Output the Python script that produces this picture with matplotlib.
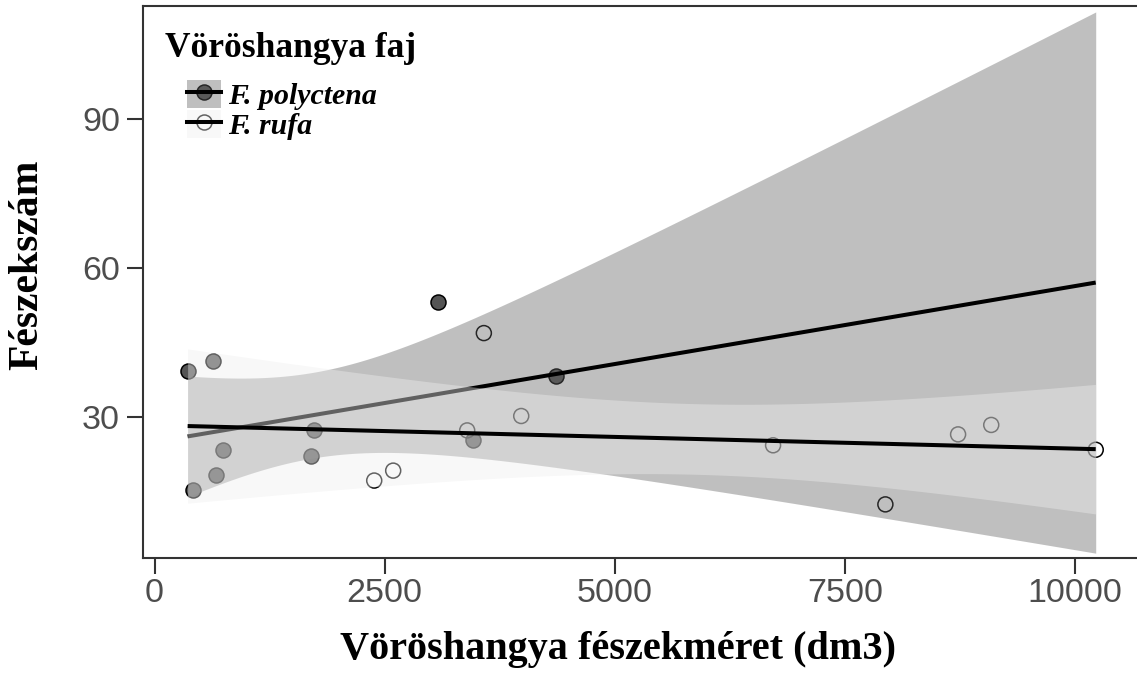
import numpy as np
import matplotlib
matplotlib.use("Agg")
import matplotlib.pyplot as plt
from matplotlib.lines import Line2D
from matplotlib.patches import Patch
from matplotlib.legend_handler import HandlerTuple

# ---------------- data ----------------
species = ["F. polyctena", "F. rufa"]
poly_x = [360, 422, 632, 668, 747, 1703, 1736, 3083, 3455, 4357]
poly_y = [39.1, 15.2, 41.1, 18.2, 23.2, 22.1, 27.2, 53.1, 25.2, 38.1]
rufa_x = [2387, 2593, 3397, 3578, 3984, 6720, 7940, 8730, 9090, 10225]
rufa_y = [17.1, 19.1, 27.2, 46.8, 30.1, 24.2, 12.3, 26.4, 28.3, 23.3]
x_ticks = [0, 2500, 5000, 7500, 10000]
y_ticks = [30, 60, 90]
legend_title = "Vöröshangya faj"
x_title = "Vöröshangya fészekméret (dm3)"
y_title = "Fészekszám"
T95 = {8: 2.306}  # Student t, 95 %, by degrees of freedom

# ---------------- styles ----------------
W, H = 1137, 675
poly_band = (0.382, 0.382, 0.382)
poly_alpha = 0.4
rufa_band = (0.933, 0.933, 0.933)
rufa_alpha = 0.413
serif = "Liberation Serif"
sans = "Liberation Sans"


def lm_band(x, y, grid):
    x = np.asarray(x, float)
    y = np.asarray(y, float)
    n = len(x)
    xm, ym = x.mean(), y.mean()
    sxx = ((x - xm) ** 2).sum()
    b = ((x - xm) * (y - ym)).sum() / sxx
    a = ym - b * xm
    s = np.sqrt(((y - (a + b * x)) ** 2).sum() / (n - 2))
    fit = a + b * grid
    se = s * np.sqrt(1.0 / n + (grid - xm) ** 2 / sxx)
    t = T95[n - 2]
    return fit, fit - t * se, fit + t * se


fig = plt.figure(figsize=(W / 100, H / 100), dpi=100)
fig.patch.set_facecolor("white")

# axes placement in pixels
left_px, right_px, top_px, bot_px = 143, 1160, 6, 558
ax = fig.add_axes([left_px / W, 1 - bot_px / H,
                   (right_px - left_px) / W, (bot_px - top_px) / H])
ax.set_facecolor("white")

ppu_x = (1075 - 154.5) / 10000.0
ax.set_xlim((left_px - 154.5) / ppu_x, (right_px - 154.5) / ppu_x)
ppu_y = (416.5 - 118.6) / 60.0
y0 = 416.5 + 30 * ppu_y
ax.set_ylim((y0 - bot_px) / ppu_y, (y0 - top_px) / ppu_y)

all_x = np.array(poly_x + rufa_x, float)
grid = np.linspace(all_x.min(), all_x.max(), 300)

ms = 10.8
ax.scatter(poly_x, poly_y, s=ms ** 2, facecolor="#555555", edgecolor="black",
           linewidth=1.1, zorder=1)
ax.scatter(rufa_x, rufa_y, s=ms ** 2, facecolor="none", edgecolor="black",
           linewidth=1.1, zorder=1)

pf, plo, phi = lm_band(poly_x, poly_y, grid)
rf, rlo, rhi = lm_band(rufa_x, rufa_y, grid)

ax.fill_between(grid, plo, phi, color=poly_band, alpha=poly_alpha, lw=0, zorder=2)
ax.plot(grid, pf, color="black", lw=2.9, zorder=3, solid_capstyle="butt")
ax.fill_between(grid, rlo, rhi, color=rufa_band, alpha=rufa_alpha, lw=0, zorder=4)
ax.plot(grid, rf, color="black", lw=2.9, zorder=5, solid_capstyle="butt")

# axes styling
ax.set_xticks(x_ticks)
ax.set_yticks(y_ticks)
ax.set_xticklabels([str(v) for v in x_ticks])
ax.set_yticklabels([str(v) for v in y_ticks])
for lab in ax.get_xticklabels() + ax.get_yticklabels():
    lab.set_family(sans)
    lab.set_fontsize(24.5)
    lab.set_color("#4D4D4D")
ax.tick_params(axis="both", direction="out", length=11.5, width=1.5,
               color="#333333")
ax.tick_params(axis="x", pad=3)
ax.tick_params(axis="y", pad=5)
for side in ["left", "top", "bottom", "right"]:
    ax.spines[side].set_color("#333333")
    ax.spines[side].set_linewidth(1.5)

# axis titles
fig.text(618 / W, 1 - 650 / H, x_title, family=serif, weight="bold",
         fontsize=29, ha="center", va="center")
fig.text(27 / W, 1 - 265 / H, y_title, family=serif, weight="bold",
         fontsize=30, ha="center", va="center", rotation=90)

# legend
fig.text(165 / W, 1 - 57 / H, legend_title, family=serif, weight="bold",
         fontsize=25.5, ha="left", va="baseline")
pt1 = Line2D([], [], ls="none", marker="o", ms=ms, mfc="#555555", mec="black", mew=1.1)
pt2 = Line2D([], [], ls="none", marker="o", ms=ms, mfc="none", mec="black", mew=1.1)
pa1 = Patch(facecolor=poly_band, alpha=poly_alpha, lw=0)
pa2 = Patch(facecolor=rufa_band, alpha=rufa_alpha, lw=0)
ln1 = Line2D([], [], color="black", lw=2.9)
ln2 = Line2D([], [], color="black", lw=2.9)
leg = fig.legend(handles=[(pt1, pa1, ln1), (pt2, pa2, ln2)], labels=species,
                 handler_map={tuple: HandlerTuple(ndivide=1, pad=0)},
                 loc="upper left", bbox_to_anchor=(187 / W, 1 - 80 / H),
                 bbox_transform=fig.transFigure, frameon=False,
                 borderpad=0, borderaxespad=0, handlelength=1.14,
                 handleheight=1.07, handletextpad=0.22, labelspacing=0.0,
                 prop={"family": serif, "weight": "bold", "style": "italic",
                       "size": 21.5})

fig.savefig("out.png", dpi=100, facecolor="white")
